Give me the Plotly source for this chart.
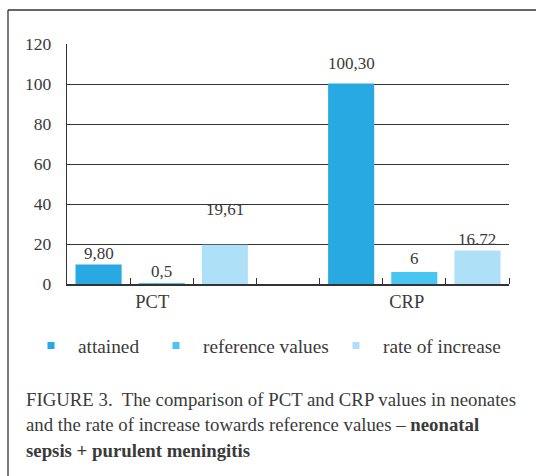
import plotly.graph_objects as go

categories = ["PCT", "CRP"]
series_names = ["attained", "reference values", "rate of increase"]
attained = [9.80, 100.30]
reference_values = [0.5, 6]
rate_of_increase = [19.61, 16.72]
label_texts = [["9,80", "100,30"], ["0,5", "6"], ["19,61", "16.72"]]
y_ticks = [0, 20, 40, 60, 80, 100, 120]
caption_lines = [
    "FIGURE 3.  The comparison of PCT and CRP values in neonates",
    "and the rate of increase towards reference values – <b>neonatal</b>",
    "<b>sepsis + purulent meningitis</b>",
]

series_values = [attained, reference_values, rate_of_increase]
colors = ["#29A9E1", "#48C5F1", "#AEE0F7"]
label_shift = [[11, 20], [12, 14], [35, 11]]
W, H = 536, 476
TXT = "#3a3a3a"
FONT = "Liberation Serif"

n_series = len(series_names)
slot = n_series + 1  # one empty slot between groups

fig = go.Figure()
for si, (name, vals) in enumerate(zip(series_names, series_values)):
    xs = [gi * slot + si for gi in range(len(categories))]
    fig.add_trace(go.Bar(x=xs, y=vals, name=name, marker_color=colors[si],
                         marker_line_width=0, width=0.73, showlegend=False))
    # legend-only entry
    fig.add_trace(go.Scatter(x=[None], y=[None], mode="markers", name=name,
                             marker=dict(symbol="square", size=7, color=colors[si]),
                             legend="legend" if si == 0 else f"legend{si+1}"))
    for gi, v in enumerate(vals):
        fig.add_annotation(x=xs[gi], y=v, text=label_texts[si][gi], showarrow=False,
                           yanchor="middle", yshift=label_shift[si][gi],
                           font=dict(family=FONT, size=17, color=TXT))

n_slots = slot * len(categories) - 1
x0 = 67 / W
x1 = 509 / W
y_bot = 1 - 284 / H
y_top = 1 - 44 / H

label_pos = [0.85, 4.88]
boundaries = [i + 0.5 for i in range(n_slots)]

fig.update_layout(
    template="none",
    width=W, height=H, margin=dict(l=0, r=0, t=0, b=0, autoexpand=False),
    paper_bgcolor="white", plot_bgcolor="white",
    font=dict(family=FONT, color=TXT),
    barmode="overlay",
    xaxis=dict(domain=[x0, x1], range=[-0.5, n_slots - 0.5], showgrid=False, zeroline=False,
               automargin=False,
               showline=True, linecolor="#333", linewidth=1.5,
               tickmode="array", tickvals=label_pos, ticktext=categories, ticks="",
               tickfont=dict(family=FONT, size=18.5, color=TXT),
               minor=dict(tickmode="array", tickvals=boundaries, ticks="inside",
                          ticklen=6, tickcolor="#333", tickwidth=1.3, showgrid=False)),
    yaxis=dict(domain=[y_bot, y_top], range=[0, 120], tickmode="array", tickvals=y_ticks,
               automargin=False,
               showgrid=True, gridcolor="#333", gridwidth=1.4, zeroline=False,
               showline=True, linecolor="#333", linewidth=1.4, ticks="",
               ticklabelstandoff=11,
               tickfont=dict(family=FONT, size=17.5, color=TXT)),
)

leg_common = dict(orientation="h", bgcolor="rgba(0,0,0,0)", yanchor="middle",
                  font=dict(family=FONT, size=19.3, color=TXT), itemwidth=44)
leg_text_x = [78, 203, 383]
leg_y = 1 - 346 / H
fig.update_layout(
    legend=dict(x=(leg_text_x[0] - 54) / W, y=leg_y, **leg_common),
    legend2=dict(x=(leg_text_x[1] - 54) / W, y=leg_y, **leg_common),
    legend3=dict(x=(leg_text_x[2] - 54) / W, y=leg_y, **leg_common),
)

caption_y = [399, 424.5, 450]
for line, yc in zip(caption_lines, caption_y):
    fig.add_annotation(xref="paper", yref="paper", x=24 / W, y=1 - yc / H, xanchor="left",
                       yanchor="middle", align="left", showarrow=False, text=line,
                       font=dict(family=FONT, size=18.8, color=TXT))

# outer frame (top and left edges)
fig.add_shape(type="line", xref="paper", yref="paper", x0=8 / W, x1=1, y0=1 - 10 / H, y1=1 - 10 / H,
              line=dict(color="#333", width=1.3))
fig.add_shape(type="line", xref="paper", yref="paper", x0=8 / W, x1=8 / W, y0=1 - 10 / H, y1=0,
              line=dict(color="#333", width=1.3))

fig.write_html("out.html", config={"displayModeBar": False},
               post_script="document.body.style.margin='0';document.body.style.overflow='hidden';")
